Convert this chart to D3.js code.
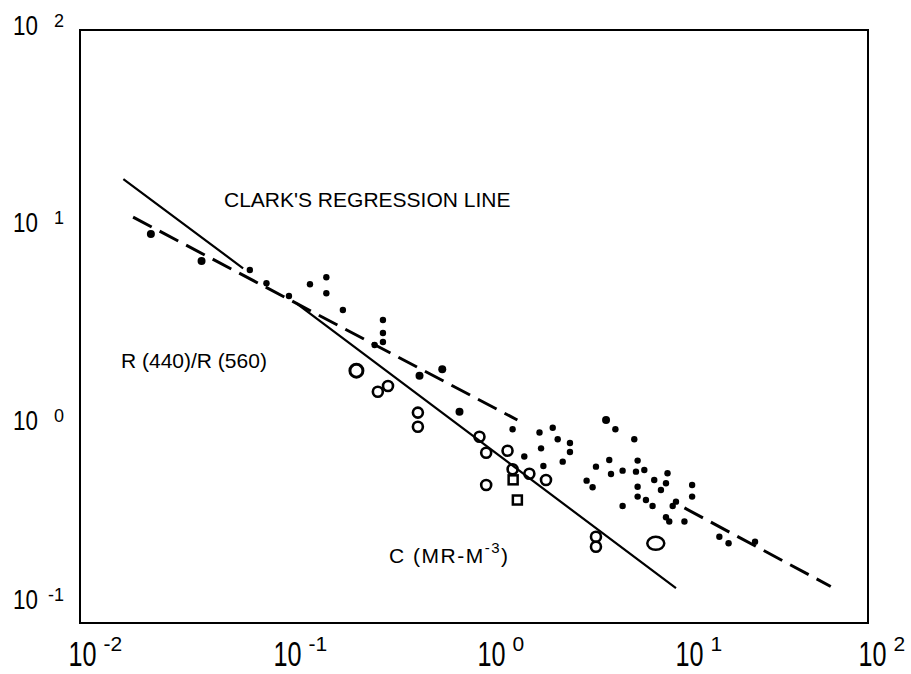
<!DOCTYPE html>
<html><head><meta charset="utf-8">
<script src="https://cdn.jsdelivr.net/npm/d3@7"></script>
<style>
body{margin:0;background:#fff;}
svg{display:block;}
text{font-family:"Liberation Sans",Arial,Helvetica,sans-serif;fill:#000;}
</style>
</head><body>
<svg id="chart" width="911" height="674"></svg>
<script>
// ---- axis ticks ----
const xTicks = [0.01, 0.1, 1, 10, 100];
const xTickExp = ["-2", "-1", "0", "1", "2"];
const yTicks = [0.1, 1, 10, 100];
const yTickExp = ["-1", "0", "1", "2"];

// ---- annotation texts ----
const titleText = "CLARK'S REGRESSION LINE";
const yTitleText = "R (440)/R (560)";
const xTitleBase = "C (MR-M";
const xTitleSup = "-3";
const xTitleEnd = ")";

// ---- Clark's regression line (solid), null = gap ----
const solidX = [0.0166, 0.0673, null, 0.1255, 10.6];
const solidY = [17.6, 6.23, null, 4.14, 0.150];

// ---- dashed fitted line, null = gap ----
const dashX = [0.0186, 1.66, null, 11.7, 64.7];
const dashY = [11.3, 1.064, null, 0.382, 0.153];

// ---- filled points ----
const dotX = [0.0229, 0.0414, 0.0728, 0.0884, 0.115, 0.147, 0.178, 0.178, 0.216, 0.313, 0.345, 0.345, 0.345, 0.529, 0.690, 0.844, 1.57, 2.15, 2.51, 2.66, 3.07, 3.07, 2.19, 1.80, 2.25, 2.82, 4.16, 4.68, 5.22, 6.51, 4.86, 4.96, 5.68, 6.77, 6.64, 7.32, 3.73, 4.00, 5.68, 6.77, 6.77, 7.46, 8.22, 8.06, 8.89, 9.60, 9.43, 10.2, 10.6, 9.43, 9.80, 11.7, 12.8, 12.8, 17.6, 19.6, 26.7];
const dotY = [9.29, 6.78, 6.11, 5.23, 4.51, 5.17, 5.61, 4.66, 3.83, 2.55, 3.41, 2.93, 2.64, 1.78, 1.92, 1.17, 0.955, 0.920, 0.973, 0.850, 0.814, 0.733, 0.765, 0.696, 0.623, 0.655, 0.618, 1.064, 0.955, 0.850, 0.668, 0.567, 0.590, 0.663, 0.583, 0.594, 0.525, 0.486, 0.391, 0.489, 0.436, 0.419, 0.529, 0.391, 0.471, 0.572, 0.509, 0.391, 0.411, 0.343, 0.326, 0.326, 0.499, 0.436, 0.273, 0.253, 0.258];
const dotKind = ["large","large","small","small","small","small","small","small","small","small","small","small","small","large","large","large","small","small","small","small","small","small","small","small","small","small","small","large","small","small","small","small","small","small","small","small","small","small","small","small","small","small","small","small","small","small","small","small","small","small","small","small","small","small","small","small","small"];

// ---- open markers ----
const openX = [0.253, 0.325, 0.366, 0.519, 0.519, 1.066, 1.153, 1.48, 1.57, 1.58, 1.91, 2.32, 1.153, 1.66, 4.16, 4.16, 8.37];
const openY = [1.89, 1.48, 1.58, 1.16, 0.984, 0.876, 0.727, 0.744, 0.600, 0.530, 0.569, 0.529, 0.499, 0.419, 0.273, 0.243, 0.253];
const openKind = ["big","circle","circle","circle","circle","circle","circle","circle","circle","square","circle","circle","circle","square","circle","circle","ellipse"];

// ---- layout ----
const M = {left: 80, right: 868, top: 30, bottom: 623};
const svg = d3.select("#chart");

const x = d3.scaleLog().domain([0.01, 100]).range([M.left, M.right]);
const y = d3.scaleLog().domain([0.1, 100]).range([M.bottom, M.top]);

// frame
svg.append("rect")
  .attr("x", M.left).attr("y", M.top)
  .attr("width", M.right - M.left).attr("height", M.bottom - M.top)
  .attr("fill", "none").attr("stroke", "#000").attr("stroke-width", 2);

// bottom axis (no tick marks), custom superscript labels
const xOff = [2, 10, 17, 18, 4];
const gx = svg.append("g").attr("transform", `translate(0,${M.bottom})`)
  .call(d3.axisBottom(x).tickValues(xTicks).tickSize(0).tickFormat(""));
gx.select(".domain").remove();
gx.selectAll(".tick").each(function(d, i) {
  const t = d3.select(this);
  const cx = xOff[i];
  t.append("g").attr("transform", `translate(${cx},43) scale(0.72,1)`)
    .append("text").attr("text-anchor", "middle")
    .style("font-size", "35px").text("10");
  t.append("text").attr("x", cx + 21).attr("y", 28)
    .attr("text-anchor", "start")
    .style("font-size", "21px").text(xTickExp[i]);
});

// left axis
const gy = svg.append("g").attr("transform", `translate(${M.left},0)`)
  .call(d3.axisLeft(y).tickValues(yTicks).tickSize(0).tickFormat(""));
gy.select(".domain").remove();
gy.selectAll(".tick").each(function(d, i) {
  const t = d3.select(this);
  const by = (i === 0) ? -15 : 4;
  t.append("g").attr("transform", `translate(-67,${by}) scale(0.8,1)`)
    .append("text").attr("text-anchor", "start")
    .style("font-size", "28px").text("10");
  t.append("text").attr("x", -16).attr("y", by - 8)
    .attr("text-anchor", "end")
    .style("font-size", "18px").text(yTickExp[i]);
});

// lines
const line = d3.line()
  .defined(d => d[0] !== null)
  .x(d => x(d[0])).y(d => y(d[1]));

svg.append("path")
  .datum(solidX.map((v, i) => [v, solidY[i]]))
  .attr("d", line).attr("fill", "none")
  .attr("stroke", "#000").attr("stroke-width", 2.2);

svg.append("path")
  .datum(dashX.map((v, i) => [v, dashY[i]]))
  .attr("d", line).attr("fill", "none")
  .attr("stroke", "#000").attr("stroke-width", 3)
  .attr("stroke-dasharray", "21,9");

// filled points
svg.append("g").selectAll("circle")
  .data(dotX.map((v, i) => ({x: v, y: dotY[i], k: dotKind[i]})))
  .join("circle")
  .attr("cx", d => x(d.x)).attr("cy", d => y(d.y))
  .attr("r", d => d.k === "large" ? 4 : 3.2)
  .attr("fill", "#000");

// open markers
const opens = openX.map((v, i) => ({x: v, y: openY[i], k: openKind[i]}));
const og = svg.append("g").attr("fill", "none").attr("stroke", "#000");
og.selectAll("circle")
  .data(opens.filter(d => d.k === "circle" || d.k === "big"))
  .join("circle")
  .attr("cx", d => x(d.x)).attr("cy", d => y(d.y))
  .attr("r", d => d.k === "big" ? 6.5 : 5)
  .attr("stroke-width", d => d.k === "big" ? 3 : 2.6);
og.selectAll("rect")
  .data(opens.filter(d => d.k === "square"))
  .join("rect")
  .attr("x", d => x(d.x) - 4.5).attr("y", d => y(d.y) - 4.5)
  .attr("width", 9).attr("height", 9)
  .attr("stroke-width", 2.5);
og.selectAll("ellipse")
  .data(opens.filter(d => d.k === "ellipse"))
  .join("ellipse")
  .attr("cx", d => x(d.x)).attr("cy", d => y(d.y))
  .attr("rx", 8.5).attr("ry", 6.5)
  .attr("stroke-width", 2.5);

// annotations
svg.append("text").attr("x", 224).attr("y", 207)
  .style("font-size", "21px").text(titleText);
svg.append("text").attr("x", 121).attr("y", 368)
  .style("font-size", "21px").text(yTitleText);
const xt = svg.append("text").attr("x", 389).attr("y", 563)
  .style("font-size", "21px").style("letter-spacing", "1.5px");
xt.append("tspan").text(xTitleBase);
xt.append("tspan").attr("dy", -10).style("font-size", "15px").text(xTitleSup);
xt.append("tspan").attr("dy", 10).text(xTitleEnd);
</script>
</body></html>
